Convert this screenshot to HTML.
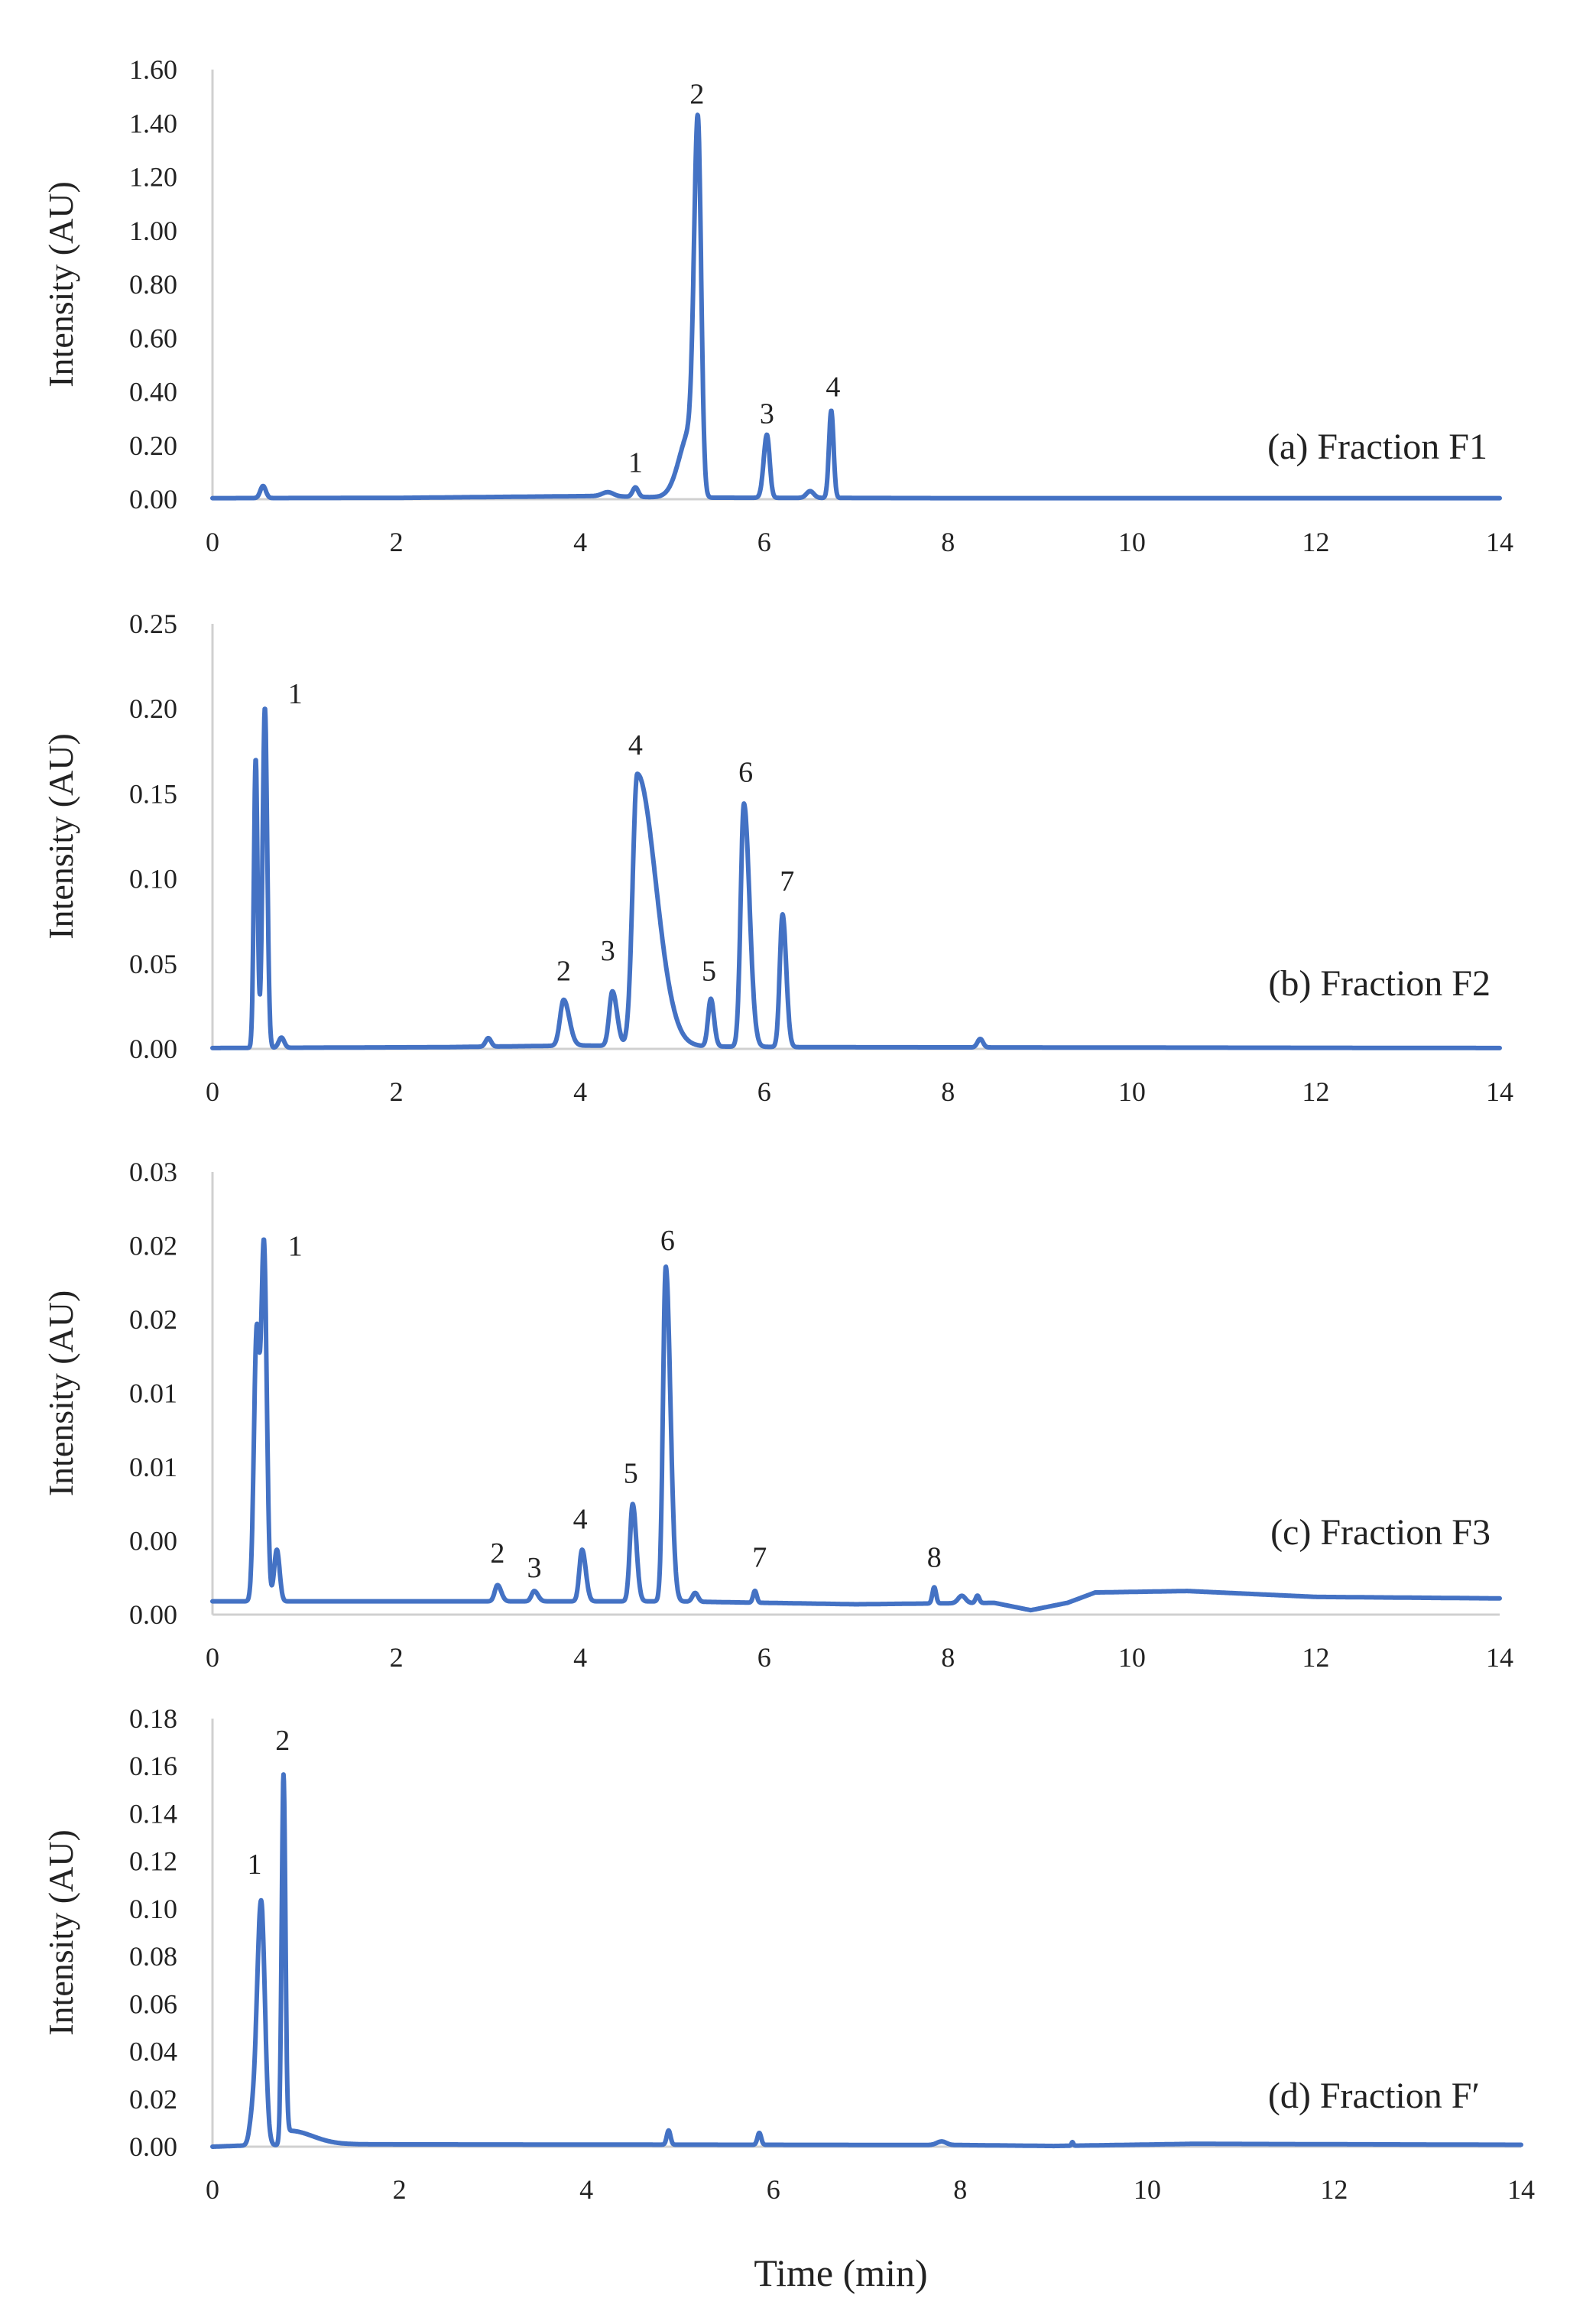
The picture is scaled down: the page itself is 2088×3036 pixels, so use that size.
<!DOCTYPE html>
<html><head><meta charset="utf-8"><style>
html,body{margin:0;padding:0;background:#fff;}
svg{display:block;}
text{font-family:"Liberation Serif",serif;fill:#222;}
</style></head><body>
<svg id="fig" width="2088" height="3036" viewBox="0 0 2088 3036">
<text x="1100" y="2990" font-size="50" text-anchor="middle">Time (min)</text>
</svg>
<script>
// ---- data ----
const xTicks = [0,2,4,6,8,10,12,14];
// Panel A
const aPeakTimes = [0.55, 4.3, 4.6, 5.2, 5.28, 6.03, 6.5, 6.73];
const aPeakHeights = [0.045, 0.015, 0.035, 0.25, 1.32, 0.235, 0.025, 0.325];
const aPeakWL = [0.03, 0.06, 0.03, 0.12, 0.04, 0.035, 0.04, 0.025];
const aPeakWR = [0.03, 0.06, 0.03, 0.06, 0.035, 0.03, 0.04, 0.025];
const aBaseT = [0, 2, 4.2, 5, 8, 14];
const aBaseV = [0.004, 0.005, 0.012, 0.006, 0.004, 0.004];
const aTickVals = [0,0.2,0.4,0.6,0.8,1.0,1.2,1.4,1.6];
const aTickLabels = ["0.00","0.20","0.40","0.60","0.80","1.00","1.20","1.40","1.60"];
const aLabelTexts = ["1","2","3","4"];
const aLabelT = [4.6, 5.27, 6.03, 6.75];
const aLabelV = [0.138, 1.51, 0.32, 0.42];
// Panel B
const bPeakTimes = [0.47, 0.57, 0.75, 3.0, 3.82, 4.35, 4.62, 5.42, 5.78, 6.2, 8.35];
const bPeakHeights = [0.17, 0.2, 0.006, 0.005, 0.027, 0.032, 0.16, 0.028, 0.143, 0.078, 0.005];
const bPeakWL = [0.02, 0.025, 0.03, 0.03, 0.04, 0.035, 0.05, 0.03, 0.035, 0.03, 0.03];
const bPeakWR = [0.02, 0.025, 0.03, 0.03, 0.06, 0.05, 0.2, 0.035, 0.06, 0.04, 0.03];
const bBaseT = [0, 2.5, 4.0, 6.5, 14];
const bBaseV = [0.0005, 0.001, 0.002, 0.001, 0.0005];
const bTickVals = [0,0.05,0.10,0.15,0.20,0.25];
const bTickLabels = ["0.00","0.05","0.10","0.15","0.20","0.25"];
const bLabelTexts = ["1","2","3","4","5","6","7"];
const bLabelT = [0.9, 3.82, 4.3, 4.6, 5.4, 5.8, 6.25];
const bLabelV = [0.209, 0.046, 0.058, 0.179, 0.046, 0.163, 0.099];
// Panel C
const cPeakTimes = [0.48, 0.56, 0.7, 3.1, 3.5, 4.02, 4.57, 4.93, 5.25, 5.9, 7.85, 8.15, 8.32];
const cPeakHeights = [0.018, 0.024, 0.0035, 0.0011, 0.0007, 0.0035, 0.0066, 0.0227, 0.0006, 0.0008, 0.0011, 0.0005, 0.0005];
const cPeakWL = [0.03, 0.03, 0.03, 0.03, 0.03, 0.03, 0.03, 0.03, 0.03, 0.02, 0.02, 0.04, 0.02];
const cPeakWR = [0.03, 0.03, 0.03, 0.04, 0.04, 0.04, 0.04, 0.05, 0.03, 0.02, 0.02, 0.04, 0.02];
const cBaseT = [0, 5, 7, 8.5, 8.9, 9.3, 9.6, 10.6, 12, 14];
const cBaseV = [0.0009, 0.0009, 0.0007, 0.0008, 0.0003, 0.0008, 0.0015, 0.0016, 0.0012, 0.0011];
const cTickVals = [0,0.005,0.01,0.015,0.02,0.025,0.03];
const cTickLabels = ["0.00","0.00","0.01","0.01","0.02","0.02","0.03"];
const cLabelTexts = ["1","2","3","4","5","6","7","8"];
const cLabelT = [0.9, 3.1, 3.5, 4.0, 4.55, 4.95, 5.95, 7.85];
const cLabelV = [0.025, 0.0042, 0.0032, 0.0065, 0.0096, 0.0254, 0.0039, 0.0039];
// Panel D
const dPeakTimes = [0.42, 0.52, 0.76, 0.82, 4.88, 5.85, 7.8, 9.2];
const dPeakHeights = [0.008, 0.103, 0.155, 0.006, 0.006, 0.005, 0.0015, 0.0015];
const dPeakWL = [0.03, 0.045, 0.02, 0.03, 0.02, 0.02, 0.05, 0.01];
const dPeakWR = [0.03, 0.04, 0.02, 0.25, 0.02, 0.02, 0.05, 0.01];
const dBaseT = [0, 0.35, 1.5, 8, 9, 10.5, 14];
const dBaseV = [0.0, 0.0005, 0.001, 0.0007, 0.0003, 0.0012, 0.0008];
const dTickVals = [0,0.02,0.04,0.06,0.08,0.10,0.12,0.14,0.16,0.18];
const dTickLabels = ["0.00","0.02","0.04","0.06","0.08","0.10","0.12","0.14","0.16","0.18"];
const dLabelTexts = ["1","2"];
const dLabelT = [0.45, 0.75];
const dLabelV = [0.119, 0.171];

// ---- layout ----
const NS = "http://www.w3.org/2000/svg";
const svg = document.getElementById('fig');
function mk(tag, attrs){const e=document.createElementNS(NS,tag);for(const k in attrs)e.setAttribute(k,attrs[k]);svg.appendChild(e);return e;}

const panels = [
 {key:'a', top:91, zero:653, x0:278, x14:1962, max:1.6, pt:aPeakTimes, ph:aPeakHeights, wl:aPeakWL, wr:aPeakWR, bt:aBaseT, bv:aBaseV, tv:aTickVals, tl:aTickLabels, lt:aLabelTexts, lx:aLabelT, ly:aLabelV, title:"(a) Fraction F1", titleY:600, titleX:1946},
 {key:'b', top:816, zero:1372, x0:278, x14:1962, max:0.25, pt:bPeakTimes, ph:bPeakHeights, wl:bPeakWL, wr:bPeakWR, bt:bBaseT, bv:bBaseV, tv:bTickVals, tl:bTickLabels, lt:bLabelTexts, lx:bLabelT, ly:bLabelV, title:"(b) Fraction F2", titleY:1302, titleX:1950},
 {key:'c', top:1533, zero:2112, x0:278, x14:1962, max:0.03, pt:cPeakTimes, ph:cPeakHeights, wl:cPeakWL, wr:cPeakWR, bt:cBaseT, bv:cBaseV, tv:cTickVals, tl:cTickLabels, lt:cLabelTexts, lx:cLabelT, ly:cLabelV, title:"(c) Fraction F3", titleY:2020, titleX:1950},
 {key:'d', top:2248, zero:2808, x0:278, x14:1990, max:0.18, pt:dPeakTimes, ph:dPeakHeights, wl:dPeakWL, wr:dPeakWR, bt:dBaseT, bv:dBaseV, tv:dTickVals, tl:dTickLabels, lt:dLabelTexts, lx:dLabelT, ly:dLabelV, title:"(d) Fraction F\u2032", titleY:2757, titleX:1936}
];

function interp(ts, vs, t){
  if(t<=ts[0]) return vs[0];
  for(let i=1;i<ts.length;i++){ if(t<=ts[i]){const f=(t-ts[i-1])/(ts[i]-ts[i-1]);return vs[i-1]+f*(vs[i]-vs[i-1]);} }
  return vs[vs.length-1];
}

panels.forEach(p=>{
  const xs = t => p.x0 + (t/14)*(p.x14-p.x0);
  const ys = v => p.zero - (v/p.max)*(p.zero-p.top);
  const ya = mk('line',{x1:p.x0,y1:p.top,x2:p.x0,y2:p.zero,stroke:'#d0d0d0','stroke-width':3});
  
  
  const xa = mk('line',{x1:p.x0,y1:p.zero,x2:p.x14,y2:p.zero,stroke:'#d0d0d0','stroke-width':3});
  
  
  p.tv.forEach((v,i)=>{
    const t = mk('text',{x:232,y:ys(v)+12,'font-size':36,'text-anchor':'end'});
    t.textContent = p.tl[i];
    
    
  });
  xTicks.forEach(v=>{
    const t = mk('text',{x:xs(v),y:p.zero+68,'font-size':36,'text-anchor':'middle'});
    t.textContent = String(v);
    
    
  });
  const yt = mk('text',{x:0,y:0,'font-size':46,'text-anchor':'middle',transform:`translate(95,${(p.top+p.zero)/2}) rotate(-90)`});
  yt.textContent = 'Intensity (AU)';
  
  
  let d='';
  for(let t=0;t<=14.0001;t+=0.004){
    let v = interp(p.bt,p.bv,t);
    for(let k=0;k<p.pt.length;k++){
      const w = t<p.pt[k]?p.wl[k]:p.wr[k];
      const z=(t-p.pt[k])/w;
      v += p.ph[k]*Math.exp(-0.5*z*z);
    }
    d += (d?'L':'M')+xs(t).toFixed(1)+' '+ys(v).toFixed(1);
  }
  const path = mk('path',{d:d,fill:'none',stroke:'#4472C4','stroke-width':6,'stroke-linejoin':'round','stroke-linecap':'round'});
  
  
  p.lt.forEach((s,i)=>{
    const t = mk('text',{x:xs(p.lx[i]),y:ys(p.ly[i])+13,'font-size':38,'text-anchor':'middle'});
    t.textContent = s;
    
    
  });
  const pt = mk('text',{x:p.titleX,y:p.titleY,'font-size':48,'text-anchor':'end'});
  pt.textContent = p.title;
  
  
});
</script>
</body></html>
